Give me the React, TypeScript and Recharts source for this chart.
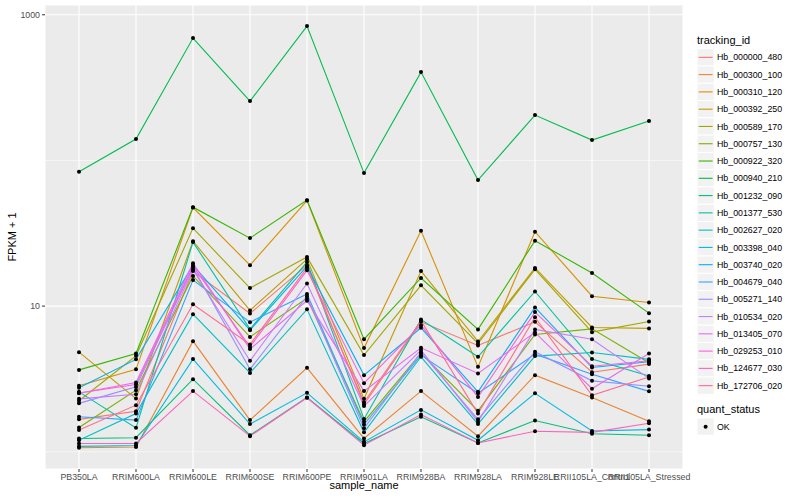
import React from 'react';
import { LineChart, Line, XAxis, YAxis, CartesianGrid } from 'recharts';

const categories = ['PB350LA', 'RRIM600LA', 'RRIM600LE', 'RRIM600SE', 'RRIM600PE', 'RRIM901LA', 'RRIM928BA', 'RRIM928LA', 'RRIM928LE', 'RRII105LA_Control', 'RRII105LA_Stressed'];

const trackingIds = ['Hb_000000_480', 'Hb_000300_100', 'Hb_000310_120', 'Hb_000392_250', 'Hb_000589_170', 'Hb_000757_130', 'Hb_000922_320', 'Hb_000940_210', 'Hb_001232_090', 'Hb_001377_530', 'Hb_002627_020', 'Hb_003398_040', 'Hb_003740_020', 'Hb_004679_040', 'Hb_005271_140', 'Hb_010534_020', 'Hb_013405_070', 'Hb_029253_010', 'Hb_124677_030', 'Hb_172706_020'];

const palette = ['#F8766D', '#EA8331', '#D89000', '#C09B00', '#A3A500', '#7CAE00', '#39B600', '#00BB4E', '#00BF7D', '#00C1A3', '#00BFC4', '#00BAE0', '#00B0F6', '#35A2FF', '#9590FF', '#C77CFF', '#E76BF3', '#FA62DB', '#FF62BC', '#FF6C91'];

const yTicks = [10, 1000];
const yMinorTicks = [1, 100];

// FPKM + 1 values per sample, in category order
const s000000_480 = [1.67, 1.90, 17.4, 8.9, 19.1, 2.12, 7.8, 5.37, 7.8, 3.52, 4.0];
const s000300_100 = [1.065, 1.08, 5.75, 1.65, 3.77, 1.235, 2.61, 1.28, 3.36, 2.36, 1.62];
const s000310_120 = [2.84, 3.68, 47.5, 19.1, 53.0, 5.15, 32.9, 3.83, 32.4, 11.7, 10.6];
const s000392_250 = [4.83, 2.32, 27.9, 9.34, 21.0, 2.31, 17.4, 5.72, 18.3, 7.14, 7.03];
const s000589_170 = [2.24, 4.56, 34.3, 13.3, 21.7, 4.61, 13.9, 5.55, 17.9, 6.63, 7.85];
const s000757_130 = [1.47, 2.65, 16.1, 6.15, 11.3, 1.61, 4.76, 1.91, 6.39, 6.98, 4.09];
const s000922_320 = [3.65, 4.73, 47.8, 29.3, 53.4, 5.93, 15.6, 6.92, 28.1, 16.9, 8.95];
const s000940_210 = [83.6, 140.2, 692, 255.5, 836, 81.9, 404, 73.3, 204.8, 138, 186.3];
const s001232_090 = [1.235, 1.25, 3.15, 1.30, 2.36, 1.14, 1.74, 1.15, 1.64, 1.33, 1.30];
const s001377_530 = [2.58, 1.46, 27.5, 6.95, 20.05, 1.68, 8.1, 4.49, 12.6, 4.33, 3.31];
const s002627_020 = [1.20, 1.83, 8.8, 3.48, 9.5, 1.36, 4.49, 1.55, 4.54, 4.81, 4.31];
const s003398_040 = [1.09, 1.105, 4.33, 1.55, 2.54, 1.17, 1.94, 1.20, 2.52, 1.39, 1.42];
const s003740_020 = [2.75, 4.31, 19.1, 6.84, 18.8, 3.36, 7.1, 2.58, 9.8, 3.79, 4.15];
const s004679_040 = [1.74, 1.65, 15.1, 7.76, 12.1, 1.54, 4.61, 2.52, 4.68, 3.41, 2.60];
const s005271_140 = [2.15, 2.79, 18.4, 3.69, 11.7, 1.45, 4.81, 1.67, 4.86, 3.07, 2.82];
const s010534_020 = [2.31, 2.48, 17.8, 4.21, 14.3, 2.06, 4.99, 1.61, 6.92, 5.93, 3.19];
const s013405_070 = [2.52, 2.99, 19.7, 5.07, 10.9, 2.61, 5.17, 3.45, 6.6, 2.71, 4.73];
const s029253_010 = [2.53, 2.90, 18.8, 5.26, 17.6, 2.96, 7.4, 2.38, 9.1, 3.87, 4.22];
const s124677_030 = [1.14, 1.14, 2.61, 1.28, 2.35, 1.11, 1.80, 1.15, 1.385, 1.36, 1.57];
const s172706_020 = [1.41, 2.09, 10.3, 5.46, 18.3, 2.19, 7.95, 1.83, 8.4, 2.44, 3.26];

const seriesValues = [s000000_480, s000300_100, s000310_120, s000392_250, s000589_170, s000757_130, s000922_320, s000940_210, s001232_090, s001377_530, s002627_020, s003398_040, s003740_020, s004679_040, s005271_140, s010534_020, s013405_070, s029253_010, s124677_030, s172706_020];

const data = categories.map((c, i) => {
  const row: Record<string, any> = { sample_name: c };
  trackingIds.forEach((id, k) => {
    row[id] = seriesValues[k][i];
  });
  return row;
});

const FONT = '"Liberation Sans", Arial, Helvetica, sans-serif';

export default function App() {
  const keyTop = 48.7;
  const keyH = 17.28;
  return (
    <div style={{ position: 'absolute', left: 0, top: 0, width: 800, height: 500, background: '#FFFFFF', fontFamily: FONT }}>
      <LineChart
        width={800}
        height={500}
        data={data}
        margin={{ top: 5, right: 117, left: 0, bottom: 0 }}
        style={{ fontFamily: FONT }}
      >
        <CartesianGrid fill="#EBEBEB" stroke="#FFFFFF" strokeWidth={1.1} />
        <CartesianGrid fill="none" stroke="#FFFFFF" strokeWidth={0.55} vertical={false} horizontalValues={yMinorTicks} />
        <XAxis
          dataKey="sample_name"
          type="category"
          interval={0}
          height={31}
          padding={{ left: 34, right: 34 }}
          axisLine={false}
          tickLine={{ stroke: '#333333' }}
          tickSize={3}
          tickMargin={2}
          tick={{ fontSize: 8.8, fill: '#4D4D4D', fontFamily: FONT }}
        />
        <YAxis
          scale="log"
          type="number"
          domain={[0.762, 1167]}
          allowDataOverflow
          ticks={yTicks}
          width={45}
          axisLine={false}
          tickLine={{ stroke: '#333333' }}
          tickSize={3}
          tickMargin={2}
          tick={{ fontSize: 8.8, fill: '#4D4D4D', fontFamily: FONT }}
          tickFormatter={(v: number) => String(v)}
        />
        {trackingIds.map((id, k) => (
          <Line
            key={'l' + id}
            dataKey={id}
            type="linear"
            stroke={palette[k]}
            strokeWidth={1.1}
            dot={false}
            activeDot={false}
            isAnimationActive={false}
          />
        ))}
        {trackingIds.map((id) => (
          <Line
            key={'p' + id}
            dataKey={id}
            type="linear"
            stroke="none"
            dot={{ r: 2, fill: '#000000', stroke: 'none' }}
            activeDot={false}
            isAnimationActive={false}
            legendType="none"
          />
        ))}
      </LineChart>
      <svg width={800} height={500} style={{ position: 'absolute', left: 0, top: 0, pointerEvents: 'none' }}>
        <text x={364} y={489} textAnchor="middle" fontSize={11} fill="#000000" fontFamily={FONT}>sample_name</text>
        <text x={0} y={0} transform="translate(16,237) rotate(-90)" textAnchor="middle" fontSize={11} fill="#000000" fontFamily={FONT}>FPKM + 1</text>
        <text x={697} y={44} fontSize={11} fill="#000000" fontFamily={FONT}>tracking_id</text>
        {trackingIds.map((id, k) => {
          const y = keyTop + k * keyH;
          return (
            <g key={'lg' + id}>
              <rect x={697} y={y} width={keyH} height={keyH} fill="#F2F2F2" stroke="#FFFFFF" strokeWidth={1} />
              <line x1={698.7} x2={712.6} y1={y + keyH / 2} y2={y + keyH / 2} stroke={palette[k]} strokeWidth={1.1} />
              <text x={717} y={y + keyH / 2 + 3.1} fontSize={8.8} fill="#000000" fontFamily={FONT}>{id}</text>
            </g>
          );
        })}
        <text x={697} y={413} fontSize={11} fill="#000000" fontFamily={FONT}>quant_status</text>
        <rect x={697} y={418} width={keyH} height={keyH} fill="#F2F2F2" stroke="#FFFFFF" strokeWidth={1} />
        <circle cx={705.6} cy={418 + keyH / 2} r={2} fill="#000000" />
        <text x={717} y={418 + keyH / 2 + 3.1} fontSize={8.8} fill="#000000" fontFamily={FONT}>OK</text>
      </svg>
    </div>
  );
}
